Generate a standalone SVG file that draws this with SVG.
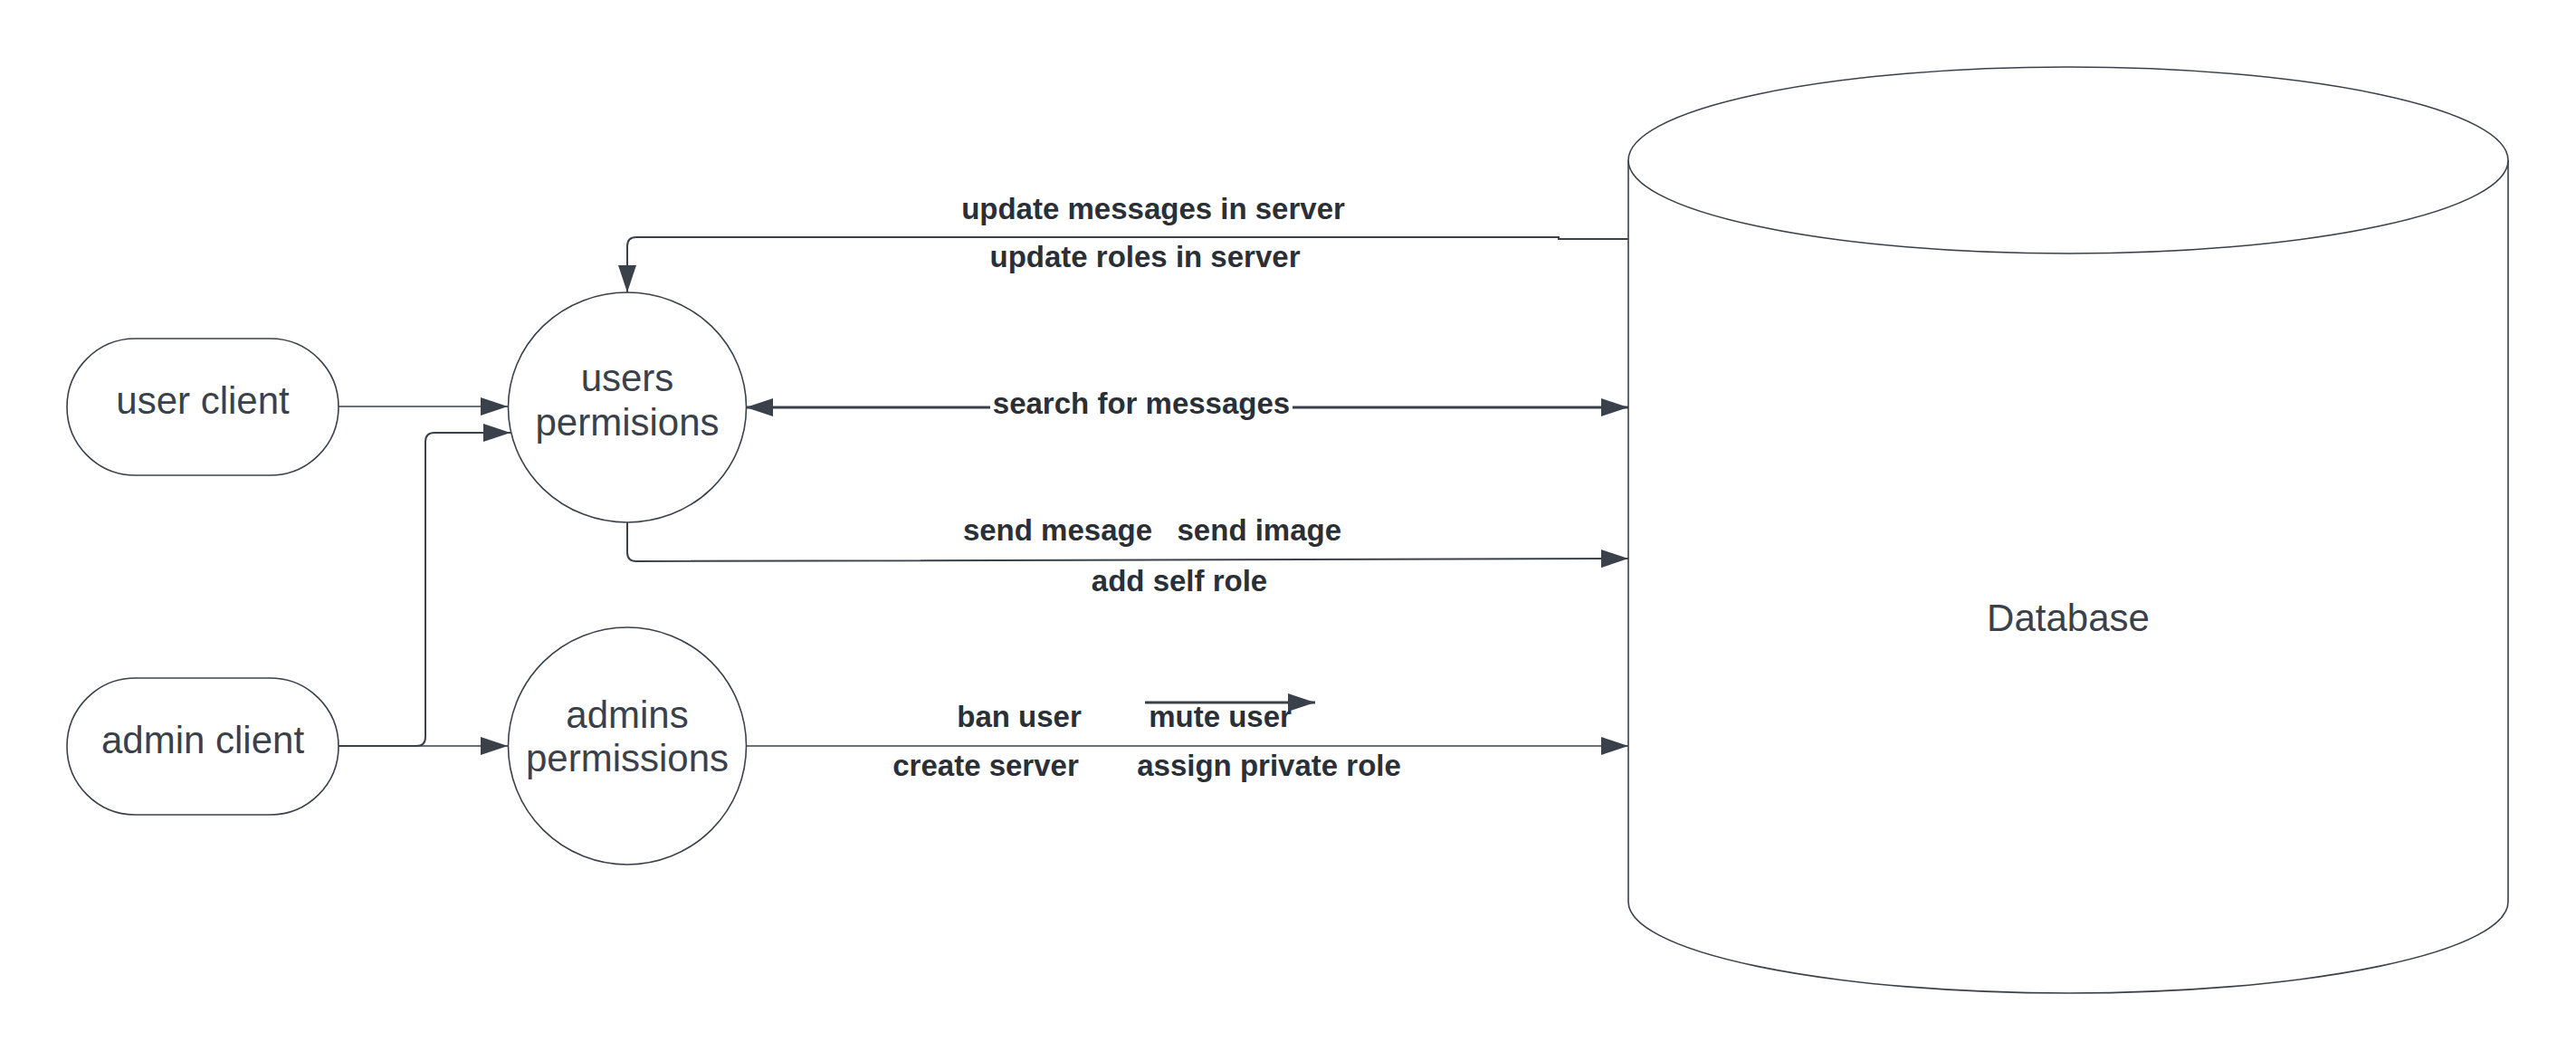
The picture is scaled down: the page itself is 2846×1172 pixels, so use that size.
<svg xmlns="http://www.w3.org/2000/svg" width="2846" height="1172" viewBox="0 0 2846 1172">
<style>
.shape{fill:#ffffff;stroke:#3a414a;stroke-width:1.6}
.node{font-family:"Liberation Sans",Arial,sans-serif;font-size:42px;fill:#3a414a;text-anchor:middle}
.lbl{font-family:"Liberation Sans",Arial,sans-serif;font-size:33px;font-weight:bold;fill:#2b2f36;text-anchor:middle;white-space:pre}
.ln{fill:none;stroke:#3a414a;stroke-width:1.5}
</style>
<defs>
<marker id="ah" viewBox="0 0 30 20" refX="30" refY="10" markerWidth="30" markerHeight="20" markerUnits="userSpaceOnUse" orient="auto-start-reverse">
<path d="M0,0 L30,10 L0,20 Z" fill="#3a414a"/>
</marker>
</defs>
<rect width="2846" height="1172" fill="#ffffff"/>
<g id="connectors">
<path class="ln" d="M374,449 L561,449" marker-end="url(#ah)"/>
<path class="ln" style="stroke-width:2" d="M374,824 L460,824 Q470,824 470,814 L470,488 Q470,478 480,478 L564,478" marker-end="url(#ah)"/>
<path class="ln" d="M374,824 L561,824" marker-end="url(#ah)"/>
<path class="ln" style="stroke-width:2" d="M1799,264 L1722,264 L1722,262 L703,262 Q693,262 693,272 L693,323" marker-end="url(#ah)"/>
<path class="ln" style="stroke-width:3" d="M824,450 L1799,450" marker-start="url(#ah)" marker-end="url(#ah)"/>
<path class="ln" style="stroke-width:2" d="M693,577 L693,610 Q693,620 703,620 L1799,617" marker-end="url(#ah)"/>
<path class="ln" d="M824,824 L1799,824" marker-end="url(#ah)"/>
<path class="ln" style="stroke-width:3" d="M1265,776 L1453,776" marker-end="url(#ah)"/>
</g>
<g id="labels">
<text class="lbl" x="1274" y="242">update messages in server</text>
<text class="lbl" x="1265" y="295">update roles in server</text>
<rect x="1094" y="428" width="334" height="40" fill="#ffffff"/>
<text class="lbl" x="1261" y="457">search for messages</text>
<text class="lbl" x="1273" y="597">send mesage   send image</text>
<text class="lbl" x="1303" y="653">add self role</text>
<text class="lbl" x="1126" y="803">ban user</text>
<text class="lbl" x="1348" y="803">mute user</text>
<text class="lbl" x="1089" y="857">create server</text>
<text class="lbl" x="1402" y="857">assign private role</text>
</g>
<g id="user-client">
<rect class="shape" x="74" y="374" width="300" height="151" rx="75.5" ry="75.5"/>
<text class="node" x="224" y="457">user client</text>
</g>
<g id="admin-client">
<rect class="shape" x="74" y="749" width="300" height="151" rx="75.5" ry="75.5"/>
<text class="node" x="224" y="832">admin client</text>
</g>
<g id="users-permisions">
<ellipse class="shape" cx="693" cy="450" rx="131.5" ry="127"/>
<text class="node" x="693" y="432">users</text>
<text class="node" x="693" y="481">permisions</text>
</g>
<g id="admins-permissions">
<ellipse class="shape" cx="693" cy="824" rx="131.5" ry="131"/>
<text class="node" x="693" y="804">admins</text>
<text class="node" x="693" y="852">permissions</text>
</g>
<g id="database">
<path class="shape" d="M1799,177 L1799,996 A486,101 0 0,0 2771,996 L2771,177"/>
<ellipse class="shape" cx="2285" cy="177" rx="486" ry="103"/>
<text class="node" x="2285" y="697">Database</text>
</g>
</svg>
